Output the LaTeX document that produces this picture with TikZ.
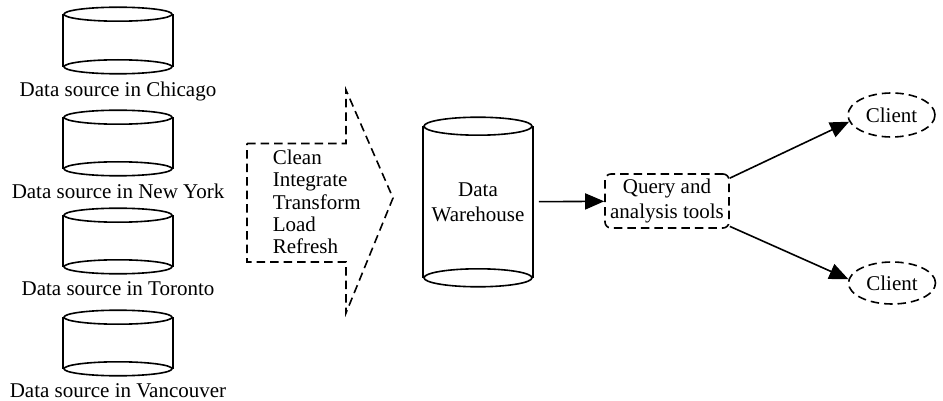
\documentclass[tikz,border=0pt]{standalone}
\usepackage{fontspec}
\setmainfont{Liberation Serif}
\usetikzlibrary{positioning,arrows.meta,shapes.geometric}
\tikzset{
  drum/.style = {minimum width = 108pt, inner sep = 0pt, align = center},
  dash box/.style = {dash pattern = on 8.5pt off 5pt},
  lbl/.style = {inner sep = 0pt},
  link/.style = {-{Triangle[length = 19pt, width = 16pt]}}
}
\begin{document}
\begin{tikzpicture}[x = 1pt, y = -1pt, line width = 1.6pt, font = \fontsize{21}{22.3}\selectfont]
\useasboundingbox (0,0) rectangle (943,401);
\pgfmathsetlengthmacro\drumry{7};
\foreach \n/\y/\h/\city in {chicago/40.5/51/Chicago, newyork/143/50/New York, toronto/241/50/Toronto, vancouver/343/50/Vancouver} {
  \node [drum, minimum height = \h pt] (\n) at (118,\y) {};
  \draw (\n.north west) -- (\n.south west) (\n.north east) -- (\n.south east);
  \draw (\n.north) ellipse [x radius = 54pt, y radius = \drumry];
  \draw (\n.south) ellipse [x radius = 54pt, y radius = \drumry];
  \node [lbl, below = 14pt of \n] {Data source in \city};
}
\draw [dash box] (247,143.5) -- (346,143.5) -- (346,90) -- (393,198) -- (346,313) -- (346,262) -- (247,262) -- cycle;
\node [lbl, align = left, anchor = west] (steps) at (272,202) {Clean\\Integrate\\Transform\\Load\\Refresh};
\node [drum, minimum height = 150pt] (warehouse) at (478,202) {Data\\[3pt]Warehouse};
\draw (warehouse.north west) -- (warehouse.south west) (warehouse.north east) -- (warehouse.south east);
\draw (warehouse.north) ellipse [x radius = 54pt, y radius = 9pt];
\draw (warehouse.south) ellipse [x radius = 54pt, y radius = 9pt];
\node [draw, dash box, rounded corners = 6pt, minimum width = 124pt, minimum height = 54pt, inner sep = 0pt, align = center] (tools) at (667,201) {Query and\\[3pt]analysis tools};
\node [draw, dash box, ellipse, minimum width = 87pt, minimum height = 44pt, inner sep = 0pt] (clientA) at (891.5,115) {Client};
\node [draw, dash box, ellipse, minimum width = 87pt, minimum height = 42pt, inner sep = 0pt] (clientB) at (892,283) {Client};
\draw [link, shorten <= 6pt] (warehouse) -- (tools);
\draw [link] (tools.20) -- (clientA.189);
\draw [link] (tools.338) -- (clientB.175);
\end{tikzpicture}
\end{document}
